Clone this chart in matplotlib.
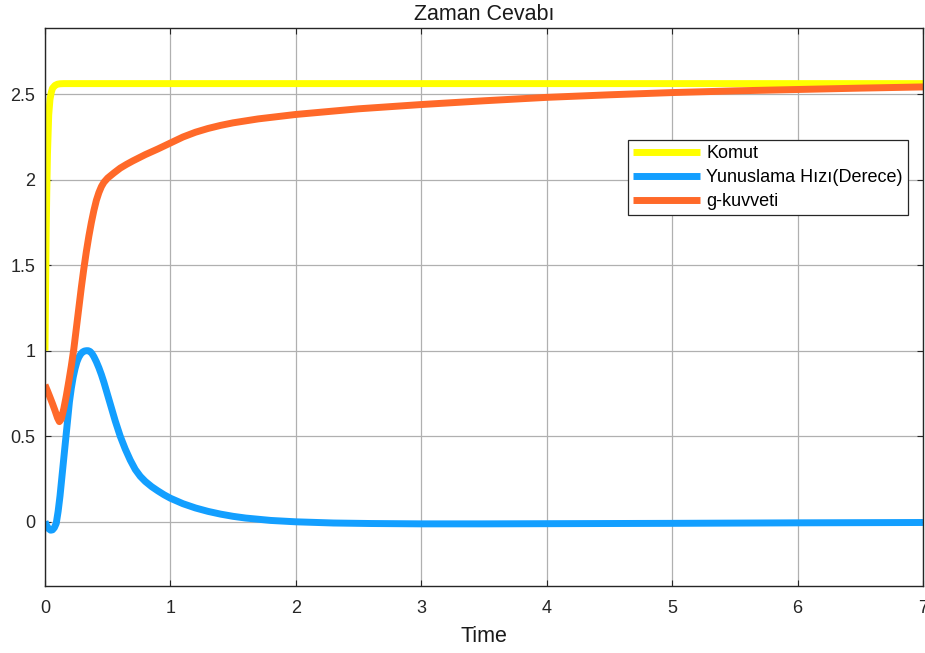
import matplotlib
matplotlib.use("Agg")
import matplotlib.pyplot as plt

plt.rcParams['font.family'] = ['Liberation Sans', 'DejaVu Sans']

# Komut (command)
t_komut = [0, 0.005, 0.01, 0.015, 0.02, 0.03, 0.04, 0.05, 0.06, 0.08, 0.1, 0.12, 0.15, 7.0]
y_komut = [1.0, 1.35, 1.7, 1.95, 2.15, 2.38, 2.47, 2.51, 2.535, 2.552, 2.559, 2.5615, 2.5625, 2.5625]

# Yunuslama Hızı (pitch rate)
t_pitch = [0, 0.015, 0.03, 0.045, 0.06, 0.075, 0.09, 0.105, 0.12, 0.135, 0.15, 0.165,
           0.18, 0.195, 0.21, 0.225, 0.24, 0.255, 0.27, 0.285, 0.3, 0.315, 0.33, 0.345,
           0.36, 0.375, 0.39, 0.41, 0.43, 0.45, 0.47, 0.5, 0.53, 0.56, 0.6, 0.64, 0.68,
           0.72, 0.76, 0.8, 0.85, 0.9, 0.95, 1.0, 1.1, 1.2, 1.3, 1.4, 1.5, 1.6, 1.8,
           2.0, 2.3, 2.6, 3.0, 3.5, 4.0, 5.0, 6.0, 7.0]
y_pitch = [0.0, -0.025, -0.042, -0.05, -0.048, -0.035, -0.01, 0.06, 0.15, 0.26, 0.37, 0.48,
           0.59, 0.70, 0.78, 0.845, 0.895, 0.935, 0.962, 0.98, 0.992, 0.998, 1.0, 1.0,
           0.995, 0.983, 0.965, 0.935, 0.9, 0.86, 0.815, 0.74, 0.665, 0.59, 0.5, 0.425, 0.36,
           0.305, 0.265, 0.235, 0.205, 0.18, 0.157, 0.137, 0.105, 0.08, 0.06, 0.044, 0.031, 0.021, 0.007,
           -0.001, -0.008, -0.011, -0.013, -0.013, -0.012, -0.01, -0.007, -0.005]

# g-kuvveti (g-force)
t_g = [0, 0.02, 0.04, 0.06, 0.08, 0.1, 0.115, 0.13, 0.15, 0.17, 0.19, 0.21, 0.23, 0.25,
       0.27, 0.29, 0.31, 0.33, 0.35, 0.37, 0.39, 0.41, 0.43, 0.45, 0.47, 0.5, 0.55, 0.6,
       0.65, 0.7, 0.8, 0.9, 1.0, 1.1, 1.2, 1.3, 1.4, 1.5, 1.7, 2.0, 2.5, 3.0, 3.5, 4.0, 4.5,
       5.0, 5.5, 6.0, 6.5, 7.0]
y_g = [0.80, 0.765, 0.728, 0.69, 0.65, 0.607, 0.585, 0.6, 0.66, 0.735, 0.82, 0.91, 1.01, 1.13,
       1.25, 1.37, 1.48, 1.58, 1.67, 1.75, 1.82, 1.88, 1.925, 1.96, 1.985, 2.01, 2.04, 2.068,
       2.09, 2.11, 2.147, 2.18, 2.215, 2.25, 2.278, 2.3, 2.318, 2.333, 2.356, 2.382, 2.415, 2.44,
       2.462, 2.482, 2.497, 2.51, 2.52, 2.528, 2.536, 2.543]

labels = ['Komut', 'Yunuslama Hızı(Derece)', 'g-kuvveti']
colors = ['#FFFF00', '#139FFF', '#FF6929']
x_ticks = [0, 1, 2, 3, 4, 5, 6, 7]
y_ticks = [0, 0.5, 1, 1.5, 2, 2.5]
y_ticklabels = ['0', '0.5', '1', '1.5', '2', '2.5']

fig = plt.figure(figsize=(9.25, 6.53), dpi=100)
ax = fig.add_axes([0.0486, 0.103, 0.9492, 0.8534])

series = [(t_komut, y_komut), (t_pitch, y_pitch), (t_g, y_g)]
for (t, y), c, lab in zip(series, colors, labels):
    ax.plot(t, y, color=c, lw=5, label=lab, solid_capstyle='butt', solid_joinstyle='round')

ax.set_xlim(0, 7)
ax.set_ylim(-0.375, 2.885)
ax.set_xticks(x_ticks)
ax.set_yticks(y_ticks)
ax.set_yticklabels(y_ticklabels)
ax.grid(True, color='#b0b0b0', lw=0.9)
ax.set_axisbelow(True)
ax.tick_params(direction='in', length=4, labelsize=13, colors='#262626',
               top=True, right=True)
ax.tick_params(axis='x', pad=10)
ax.tick_params(axis='y', pad=7)
for s in ax.spines.values():
    s.set_color('#262626')
    s.set_linewidth(1.0)

ax.set_title('Zaman Cevabı', fontsize=15.5, pad=6, color='#1a1a1a')
ax.set_xlabel('Time', fontsize=15.5, labelpad=7, color='#1a1a1a')

leg = ax.legend(loc='upper left', bbox_to_anchor=(0.664, 0.80), fontsize=13,
                handlelength=3.7, handletextpad=0.35, labelspacing=0.38,
                borderpad=0.3, borderaxespad=0, fancybox=False, framealpha=1,
                edgecolor='#262626')
leg.get_frame().set_linewidth(0.9)

fig.savefig('out.png', dpi=100)
